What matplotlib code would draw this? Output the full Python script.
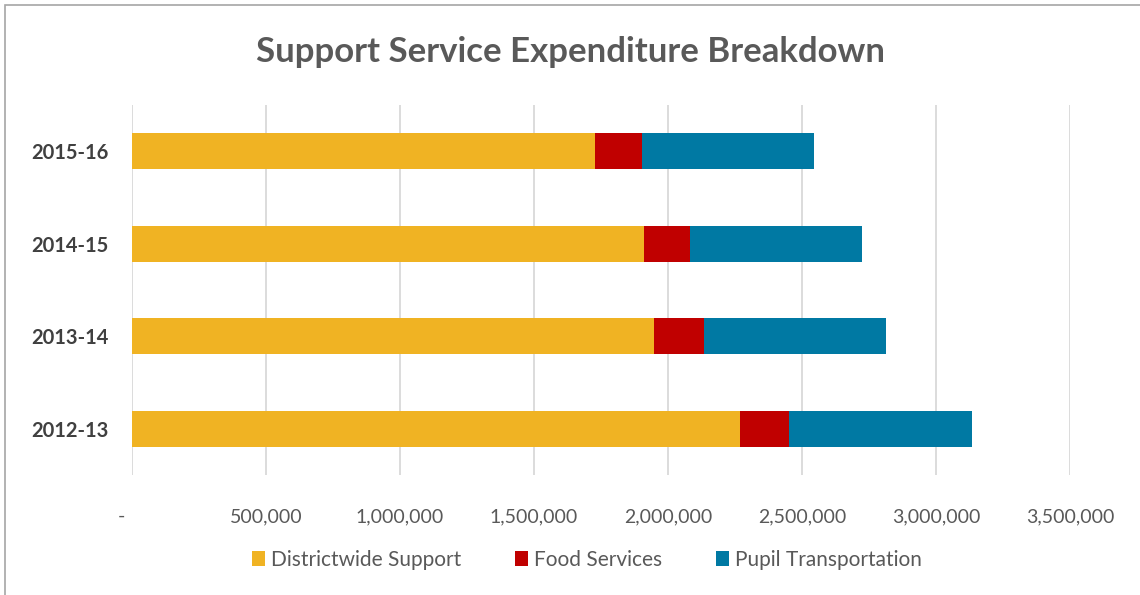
import matplotlib.pyplot as plt
from matplotlib.patches import Rectangle
from matplotlib.ticker import FuncFormatter

years = ["2012-13", "2013-14", "2014-15", "2015-16"]
districtwide = [2268000, 1948000, 1910000, 1728000]
food = [183000, 186000, 172000, 175000]
pupil = [683000, 679000, 642000, 642000]

colors = ["#F0B323", "#C00000", "#0079A3"]
labels = ["Districtwide Support", "Food Services", "Pupil Transportation"]

plt.rcParams["font.family"] = ["Lato", "DejaVu Sans"]

fig = plt.figure(figsize=(11.4, 5.95), dpi=100)
ax = fig.add_axes([132 / 1140, 1 - 475 / 595, (1070 - 132) / 1140, 370 / 595])

# chart border like the spreadsheet frame
fig.patches.append(Rectangle((5 / 1140, -0.1), 1.2, 1 - 5 / 595 + 0.1,
                             transform=fig.transFigure, fill=False,
                             edgecolor="#A6A6A6", linewidth=1.2))

y = range(len(years))
left = [0] * len(years)
for vals, c, lab in zip([districtwide, food, pupil], colors, labels):
    ax.barh(y, vals, left=left, height=0.39, color=c, label=lab)
    left = [a + b for a, b in zip(left, vals)]

ax.set_xlim(0, 3500000)
ax.set_ylim(-0.5, 3.5)
ax.set_xticks(range(0, 3500001, 500000))
# excel shows zero as a dash, sitting a little left of the axis
ax.xaxis.set_major_formatter(FuncFormatter(lambda v, p: "-    " if v == 0 else f"{int(v):,}"))
ax.set_yticks(list(y))
ax.set_yticklabels(years, fontweight="bold", fontsize=14.5, color="#404040")
ax.tick_params(axis="x", labelsize=14, labelcolor="#595959", length=0, pad=24)
ax.tick_params(axis="y", length=0, pad=17)
ax.grid(axis="x", color="#D9D9D9", linewidth=1.3)
ax.set_axisbelow(True)
for s in ax.spines.values():
    s.set_visible(False)

fig.text(0.5, 1 - 52 / 595, "Support Service Expenditure Breakdown", ha="center", va="center",
         fontsize=25, fontweight="bold", color="#595959")

fig.legend(loc="center", bbox_to_anchor=(0.515, 1 - 560 / 595), ncol=3, frameon=False,
           fontsize=15, labelcolor="#595959", handlelength=0.6, handleheight=0.7,
           handletextpad=0.3, columnspacing=2.6)

fig.savefig("out.png", dpi=100)
